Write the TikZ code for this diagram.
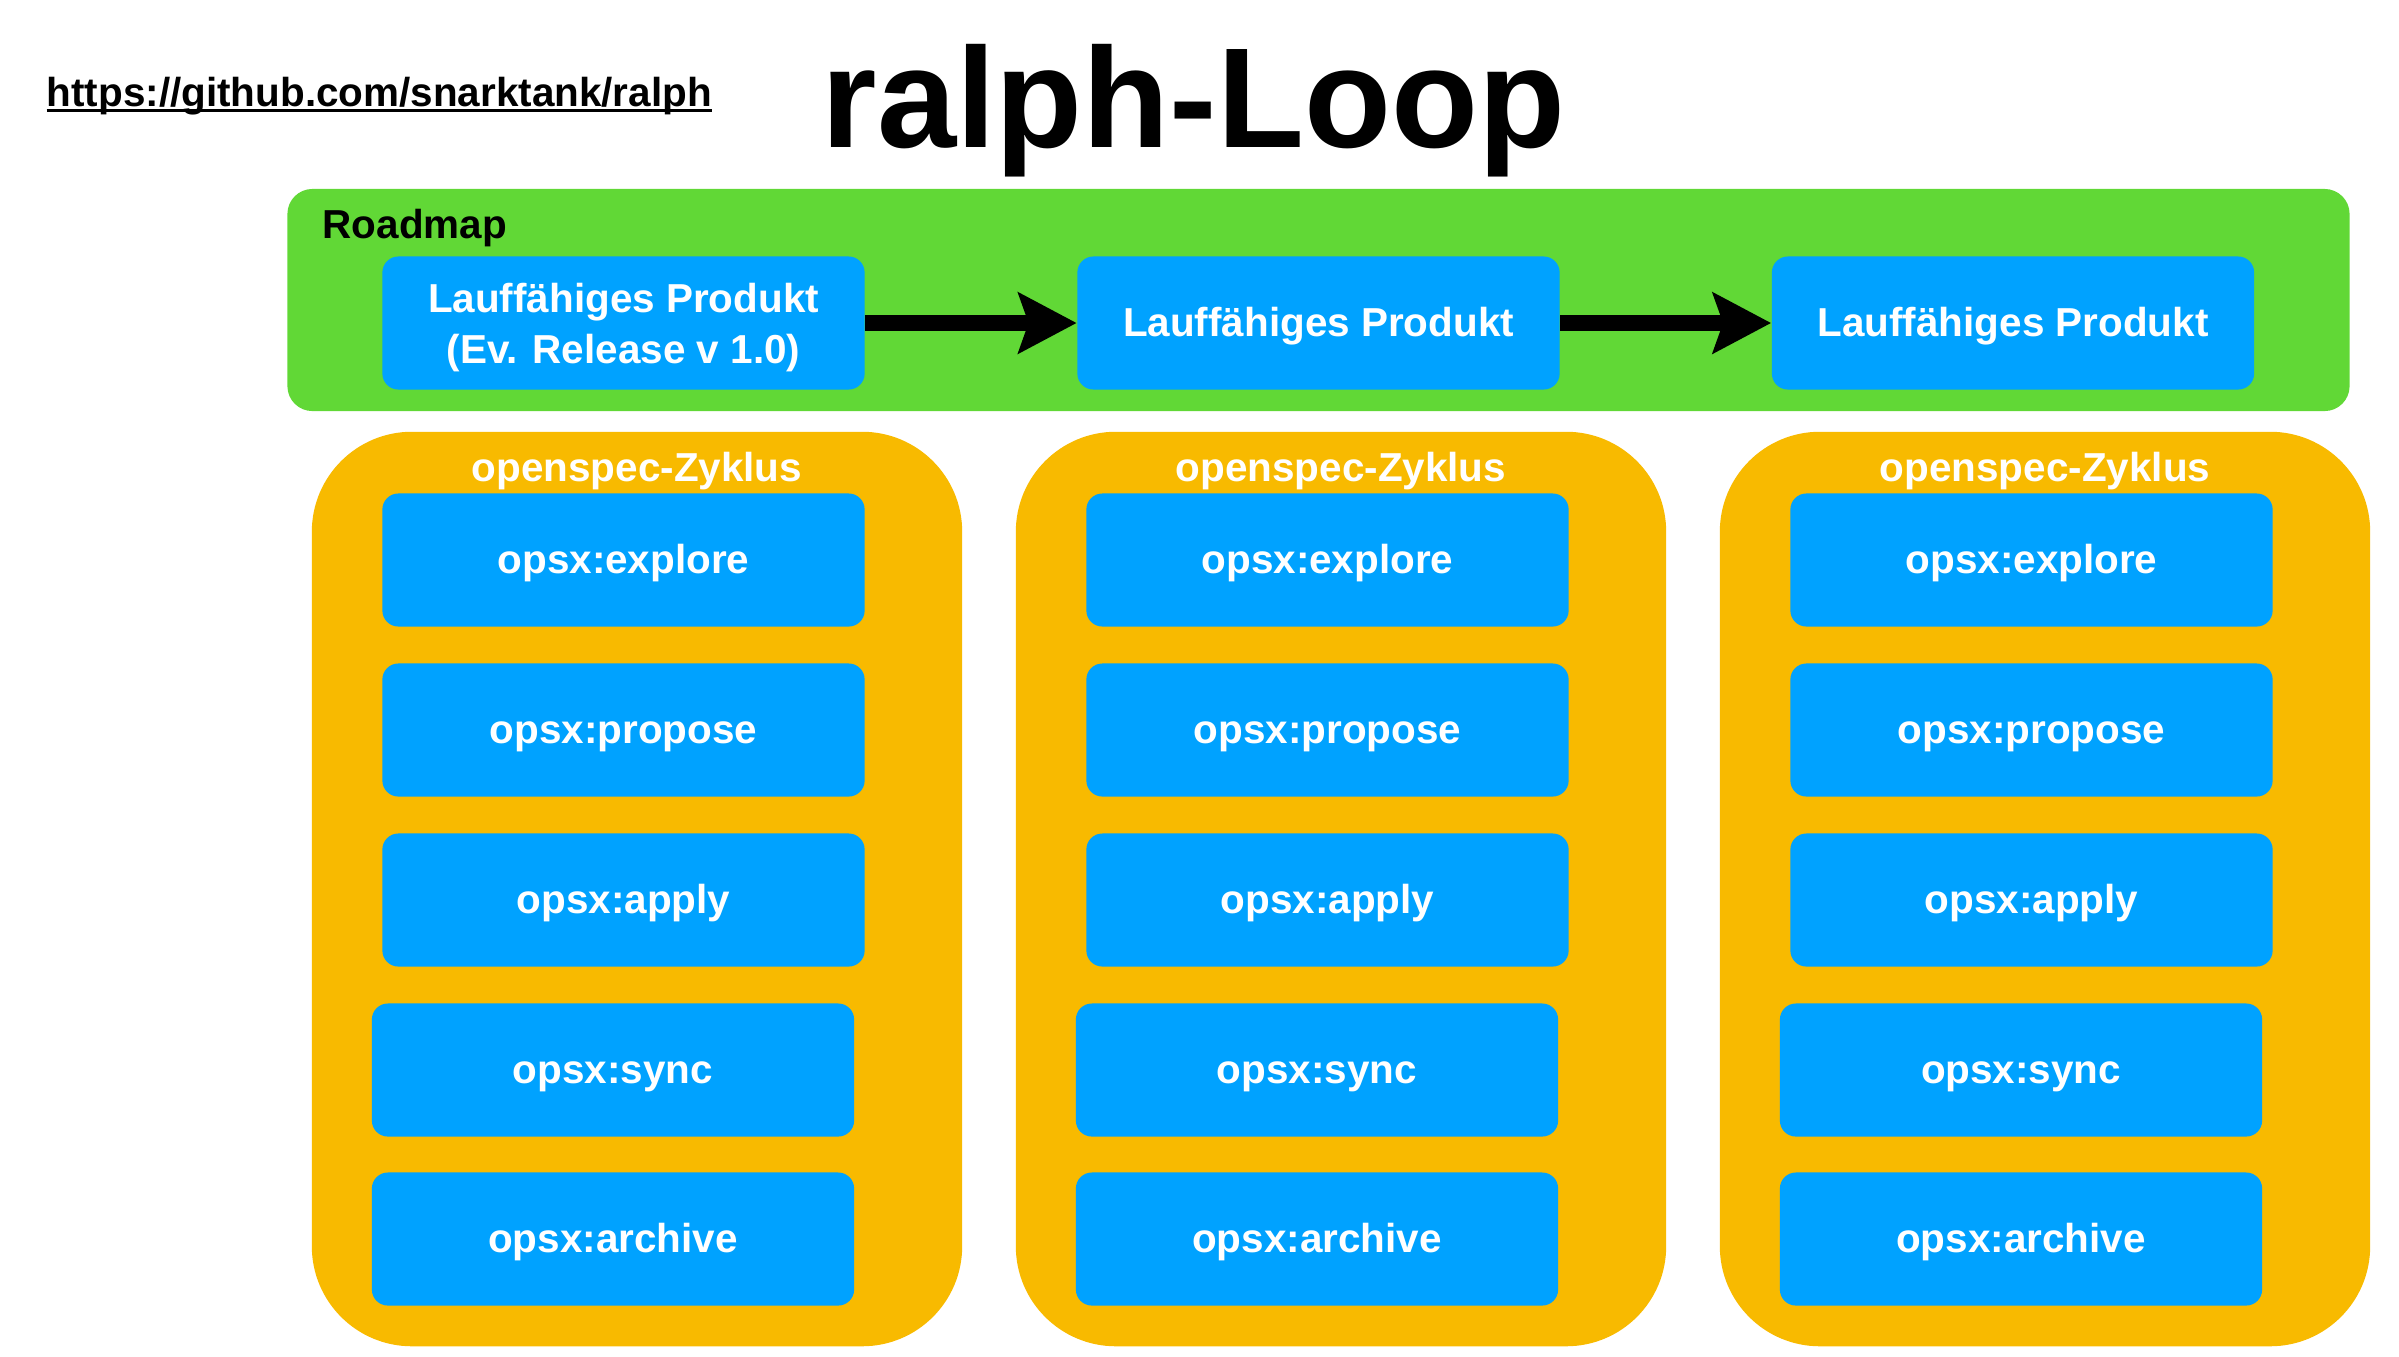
\documentclass[tikz,border=0pt]{standalone}
\usepackage{fontspec}
\setmainfont{Liberation Sans}
\usetikzlibrary{arrows.meta}

\definecolor{roadgreen}{HTML}{61D836}
\definecolor{taskblue}{HTML}{00A2FF}
\definecolor{zyklusorange}{HTML}{F8BA00}

% unterstrichener Link
\newcommand\linkunder[1]{\setbox0\hbox{#1}\rlap{\rule[-1.8pt]{\wd0}{0.9pt}}\box0}

\tikzset{
  labelfont/.style={font=\fontsize{11.5}{14.5}\selectfont\bfseries},
  task/.style={labelfont, fill=taskblue, text=white, rounded corners=0.16cm,
    minimum width=4.82cm, minimum height=1.33cm, inner sep=0pt, align=center,
    text height=0.76em, text depth=0pt},
  lane/.style={fill=zyklusorange, rounded corners=1cm, minimum width=6.5cm,
    minimum height=9.14cm, inner sep=0pt},
  roadmap/.style={fill=roadgreen, rounded corners=0.25cm, minimum width=20.61cm,
    minimum height=2.22cm, inner sep=0pt},
  flow/.style={line width=0.16cm, -{Stealth[length=0.58cm, width=0.6cm, inset=0.1cm]}},
}

\begin{document}
\begin{tikzpicture}[x=0.01cm, y=-0.01cm]
  \useasboundingbox (0,0) rectangle (2399,1356);

  % Kopfzeile
  \node[labelfont, anchor=base west, inner sep=0pt] (link) at (46,106)
    {\linkunder{https://github.com/snarktank/ralph}};
  \node[font=\fontsize{40.5}{48}\selectfont\bfseries, anchor=base west, inner sep=0pt] (title) at (821,147)
    {ralph-Loop};

  % Roadmap
  \node[roadmap] (road) at (1318.5,300) {};
  \node[labelfont, anchor=base west, inner sep=0pt] (roadlabel) at (322,238) {Roadmap};
  \node[task, text height=22.8pt] (prod1) at (623.5,323) {Lauffähiges Produkt\\(Ev. Release v 1.0)};
  \node[task] (prod2) at (1318.5,323) {Lauffähiges Produkt};
  \node[task] (prod3) at (2013,323) {Lauffähiges Produkt};
  \draw[flow] (prod1) -- (prod2);
  \draw[flow] (prod2) -- (prod3);

  % openspec-Zyklen
  \foreach \c/\dx in {1/0, 2/704, 3/1408} {
    \node[lane] (lane\c) at (637+\dx,889) {};
    \node[labelfont, text=white, anchor=base, inner sep=0pt] (lanetitle\c) at (637+\dx,481) {openspec-Zyklus};
    \node[task] (explore\c) at (623.5+\dx,560) {opsx:explore};
    \node[task] (propose\c) at (623.5+\dx,730) {opsx:propose};
    \node[task] (apply\c) at (623.5+\dx,900) {opsx:apply};
    \node[task] (sync\c) at (613+\dx,1070) {opsx:sync};
    \node[task] (archive\c) at (613+\dx,1239) {opsx:archive};
  }
\end{tikzpicture}
\end{document}
